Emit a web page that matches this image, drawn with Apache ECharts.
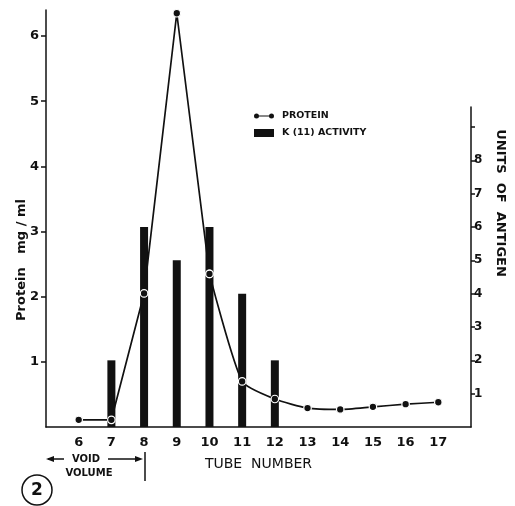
<!DOCTYPE html>
<html>
<head>
<meta charset="utf-8">
<script src="https://cdn.jsdelivr.net/npm/echarts@6/dist/echarts.min.js"></script>
<style>
  html, body { margin: 0; padding: 0; background: #fff; }
  #chart { width: 515px; height: 506px; }
</style>
</head>
<body>
<div id="chart"></div>
<script>
// values
const tubes = [6, 7, 8, 9, 10, 11, 12, 13, 14, 15, 16, 17];
const protein = [0.11, 0.11, 2.05, 6.35, 2.35, 0.7, 0.43, 0.29, 0.27, 0.31, 0.35, 0.38];
const activityTubes = [7, 8, 9, 10, 11, 12];
const activity = [2, 6, 5, 6, 4, 2];
const proteinTicks = [1, 2, 3, 4, 5, 6];
const antigenTicks = [1, 2, 3, 4, 5, 6, 7, 8, 9];
const antigenLabels = [1, 2, 3, 4, 5, 6, 7, 8];

const FONT = 'DejaVu Sans';
const INK = '#111';

const pairs = (xs, ys) => xs.map((x, i) => [x, ys[i]]);
const proteinPts = pairs(tubes, protein);
// the rise and the peak are drawn straight, the tail after tube 10 is a curve
const peakIdx = tubes.indexOf(10);

const lineSeries = (data, smooth) => ({
    name: 'PROTEIN',
    type: 'line',
    xAxisIndex: 0,
    yAxisIndex: 0,
    data: data,
    smooth: smooth,
    z: 5,
    symbol: 'circle',
    symbolSize: 7.5,
    lineStyle: { color: INK, width: 1.7 },
    itemStyle: { color: INK, borderColor: '#fff', borderWidth: 1.2 }
});

const chartOpt = () => {
    return {
        animation: false,
        color: [INK],
        textStyle: { fontFamily: FONT, color: INK },
        grid: [
            { left: 46, right: 44, top: 10, bottom: 79 },
            { left: 46, right: 44, top: 107, bottom: 79 }
        ],
        legend: {
            orient: 'vertical',
            left: 249,
            top: 106,
            itemWidth: 20,
            itemHeight: 8,
            itemGap: 7,
            textStyle: { fontSize: 9.5, fontWeight: 'bold', color: INK, padding: [0, 0, 0, 3] },
            data: [
                {
                    name: 'PROTEIN',
                    icon: 'path://M2.5,0A2.5,2.5,0,1,1,2.5,5A2.5,2.5,0,1,1,2.5,0ZM17.5,0A2.5,2.5,0,1,1,17.5,5A2.5,2.5,0,1,1,17.5,0ZM2.5,2L17.5,2L17.5,3L2.5,3Z',
                    itemStyle: { color: INK, borderColor: INK, borderWidth: 0 },
                    lineStyle: { width: 0 }
                },
                { name: 'K (11) ACTIVITY', icon: 'rect' }
            ]
        },
        xAxis: [
            {
                type: 'value',
                gridIndex: 0,
                min: 5,
                max: 18,
                interval: 1,
                splitLine: { show: false },
                axisLine: { lineStyle: { color: INK, width: 1.5 } },
                axisTick: { show: false },
                axisLabel: {
                    customValues: tubes,
                    margin: 9,
                    fontSize: 13,
                    fontWeight: 'bold',
                    color: INK
                },
                name: 'TUBE  NUMBER',
                nameLocation: 'middle',
                nameGap: 30,
                nameTextStyle: { fontSize: 14, color: INK }
            },
            {
                type: 'value',
                gridIndex: 1,
                min: 5,
                max: 18,
                show: false
            }
        ],
        yAxis: [
            {
                type: 'value',
                gridIndex: 0,
                position: 'left',
                min: 0,
                max: 6.4,
                splitLine: { show: false },
                axisLine: { show: true, lineStyle: { color: INK, width: 1.5 } },
                axisTick: { show: true, length: 5, customValues: proteinTicks, lineStyle: { color: INK, width: 1.5 } },
                axisLabel: {
                    customValues: proteinTicks,
                    margin: 7,
                    fontSize: 13,
                    fontWeight: 'bold',
                    color: INK
                }
            },
            {
                type: 'value',
                gridIndex: 1,
                position: 'right',
                min: 0,
                max: 9.6,
                splitLine: { show: false },
                axisLine: { show: true, lineStyle: { color: INK, width: 1.5 } },
                axisTick: { show: true, length: 4, customValues: antigenTicks, lineStyle: { color: INK, width: 1.5 } },
                axisLabel: {
                    customValues: antigenLabels,
                    margin: 3,
                    fontSize: 12,
                    fontWeight: 'bold',
                    color: INK
                }
            }
        ],
        series: [
            {
                name: 'K (11) ACTIVITY',
                type: 'bar',
                xAxisIndex: 1,
                yAxisIndex: 1,
                barWidth: 8,
                z: 2,
                itemStyle: { color: INK },
                data: pairs(activityTubes, activity)
            },
            lineSeries(proteinPts.slice(0, peakIdx + 1), false),
            lineSeries(proteinPts.slice(peakIdx), 0.2)
        ],
        graphic: [
            {
                type: 'text',
                x: 22,
                y: 260,
                rotation: Math.PI / 2,
                style: {
                    text: 'Protein   mg / ml',
                    font: 'bold 13px "DejaVu Sans"',
                    fill: INK,
                    align: 'center',
                    verticalAlign: 'middle'
                }
            },
            {
                type: 'text',
                x: 500,
                y: 203,
                rotation: -Math.PI / 2,
                style: {
                    text: 'UNITS  OF  ANTIGEN',
                    font: 'bold 13px "DejaVu Sans"',
                    fill: INK,
                    align: 'center',
                    verticalAlign: 'middle'
                }
            },
            // void volume marker
            {
                type: 'polyline',
                shape: { points: [[48, 459], [64, 459]] },
                style: { stroke: INK, lineWidth: 1.5 }
            },
            {
                type: 'polygon',
                shape: { points: [[46, 459], [54, 456], [54, 462]] },
                style: { fill: INK }
            },
            {
                type: 'polyline',
                shape: { points: [[108, 459], [140, 459]] },
                style: { stroke: INK, lineWidth: 1.5 }
            },
            {
                type: 'polygon',
                shape: { points: [[143, 459], [135, 456], [135, 462]] },
                style: { fill: INK }
            },
            {
                type: 'polyline',
                shape: { points: [[145, 452], [145, 481]] },
                style: { stroke: INK, lineWidth: 1.5 }
            },
            {
                type: 'text',
                x: 86,
                y: 459,
                style: { text: 'VOID', font: 'bold 10px "DejaVu Sans"', fill: INK, align: 'center', verticalAlign: 'middle' }
            },
            {
                type: 'text',
                x: 89,
                y: 473,
                style: { text: 'VOLUME', font: 'bold 10px "DejaVu Sans"', fill: INK, align: 'center', verticalAlign: 'middle' }
            },
            {
                type: 'circle',
                shape: { cx: 37, cy: 490, r: 15 },
                style: { fill: 'none', stroke: INK, lineWidth: 1.5 }
            },
            {
                type: 'text',
                x: 37,
                y: 491,
                style: { text: '2', font: 'bold 17px "DejaVu Sans"', fill: INK, align: 'center', verticalAlign: 'middle' }
            }
        ]
    };
};

const chart = echarts.init(document.getElementById('chart'));
chart.setOption(chartOpt());
</script>
</body>
</html>
